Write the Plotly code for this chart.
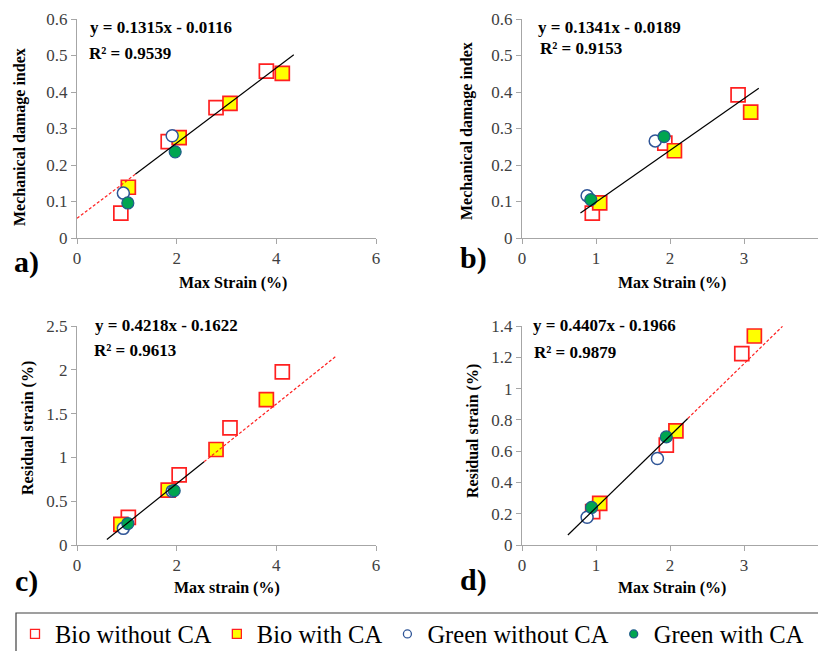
import plotly.graph_objects as go

W, H = 818, 651

# ---------------- data ----------------
series_names = ["Bio without CA", "Bio with CA", "Green without CA", "Green with CA"]

# panel a) Max strain vs mechanical damage index
a_bio_wo_x = [0.88, 1.83, 2.79, 3.80]
a_bio_wo_y = [0.068, 0.264, 0.357, 0.457]
a_bio_w_x = [1.03, 2.05, 3.07, 4.12]
a_bio_w_y = [0.139, 0.275, 0.369, 0.451]
a_grn_wo_x = [0.93, 1.91]
a_grn_wo_y = [0.123, 0.280]
a_grn_w_x = [1.02, 1.97]
a_grn_w_y = [0.096, 0.236]

# panel b)
b_bio_wo_x = [0.95, 1.93, 2.92]
b_bio_wo_y = [0.068, 0.260, 0.392]
b_bio_w_x = [1.05, 2.06, 3.09]
b_bio_w_y = [0.096, 0.239, 0.345]
b_grn_wo_x = [0.88, 1.80]
b_grn_wo_y = [0.116, 0.266]
b_grn_w_x = [0.93, 1.92]
b_grn_w_y = [0.105, 0.278]

# panel c) Max strain vs residual strain
c_bio_wo_x = [1.03, 2.05, 3.07, 4.12]
c_bio_wo_y = [0.315, 0.800, 1.337, 1.976]
c_bio_w_x = [0.88, 1.83, 2.79, 3.80]
c_bio_w_y = [0.236, 0.627, 1.090, 1.660]
c_grn_wo_x = [0.93, 1.91]
c_grn_wo_y = [0.190, 0.615]
c_grn_w_x = [1.02, 1.95]
c_grn_w_y = [0.245, 0.620]

# panel d)
d_bio_wo_x = [0.955, 1.95, 2.97]
d_bio_wo_y = [0.213, 0.638, 1.223]
d_bio_w_x = [1.05, 2.08, 3.14]
d_bio_w_y = [0.266, 0.730, 1.336]
d_grn_wo_x = [0.88, 1.83]
d_grn_wo_y = [0.177, 0.553]
d_grn_w_x = [0.94, 1.95]
d_grn_w_y = [0.240, 0.691]

# trend lines (slope, intercept, solid x-range, dashed x-range)
fit_slope = [0.103, 0.142, 0.455, 0.460]
fit_intercept = [0.054, -0.044, -0.210, -0.2214]
fit_solid_x = [[1.17, 4.35], [0.79, 3.20], [0.60, 2.55], [0.62, 2.24]]
fit_dash_x = [[0.0, 1.17], None, [2.55, 5.20], [2.24, 3.52]]

equations = ["y = 0.1315x - 0.0116", "y = 0.1341x - 0.0189",
             "y = 0.4218x - 0.1622", "y = 0.4407x - 0.1966"]
r2_texts = ["R² = 0.9539", "R² = 0.9153", "R² = 0.9613", "R² = 0.9879"]
panel_labels = ["a)", "b)", "c)", "d)"]
x_titles = ["Max Strain (%)", "Max Strain (%)", "Max strain (%)", "Max Strain (%)"]
y_titles = ["Mechanical damage index", "Mechanical damage index",
            "Residual strain (%)", "Residual strain (%)"]

x_ranges = [[0, 6], [0, 4], [0, 6], [0, 4]]
x_dticks = [2, 1, 2, 1]
y_ranges = [[0, 0.6], [0, 0.6], [0, 2.5], [0, 1.4]]
y_dticks = [0.1, 0.1, 0.5, 0.2]

# ---------------- styles ----------------
FONT = "Liberation Serif, Times New Roman, serif"
RED = "#FF2020"
YELLOW = "#FFFF00"
BLUE = "#2F5597"
GREEN = "#00A550"
GREEN_EDGE = "#1F5C8A"
AXIS = "#A6A6A6"
TICKFONT = "#404040"

styles = [
    dict(symbol="square", color="white", line=dict(color=RED, width=1.7)),
    dict(symbol="square", color=YELLOW, line=dict(color=RED, width=1.7)),
    dict(symbol="circle", color="white", line=dict(color=BLUE, width=1.5)),
    dict(symbol="circle", color=GREEN, line=dict(color=GREEN_EDGE, width=1.2)),
]
sizes = [14, 14, 12, 12]

panels = [
    [(a_bio_wo_x, a_bio_wo_y), (a_bio_w_x, a_bio_w_y), (a_grn_wo_x, a_grn_wo_y), (a_grn_w_x, a_grn_w_y)],
    [(b_bio_wo_x, b_bio_wo_y), (b_bio_w_x, b_bio_w_y), (b_grn_wo_x, b_grn_wo_y), (b_grn_w_x, b_grn_w_y)],
    [(c_bio_wo_x, c_bio_wo_y), (c_bio_w_x, c_bio_w_y), (c_grn_wo_x, c_grn_wo_y), (c_grn_w_x, c_grn_w_y)],
    [(d_bio_wo_x, d_bio_wo_y), (d_bio_w_x, d_bio_w_y), (d_grn_wo_x, d_grn_wo_y), (d_grn_w_x, d_grn_w_y)],
]

# pixel geometry of plot areas (left, right, top, bottom)
px_boxes = [(77, 376, 19, 238), (522, 818, 19, 238), (77, 376, 326, 545), (522, 818, 326, 545)]

def px(x):
    return x / W

def py(y):
    return 1 - y / H

fig = go.Figure()

for i, data in enumerate(panels):
    xa = "x" if i == 0 else f"x{i+1}"
    ya = "y" if i == 0 else f"y{i+1}"
    for j, (xs, ys) in enumerate(data):
        st = styles[j]
        fig.add_trace(go.Scatter(
            x=xs, y=ys, mode="markers", xaxis=xa, yaxis=ya, showlegend=False,
            name=series_names[j], cliponaxis=False,
            marker=dict(symbol=st["symbol"], size=sizes[j], color=st["color"], line=st["line"]),
        ))
    # trend lines
    m, b = fit_slope[i], fit_intercept[i]
    sx = fit_solid_x[i]
    fig.add_trace(go.Scatter(
        x=sx, y=[m * v + b for v in sx], mode="lines", xaxis=xa, yaxis=ya,
        showlegend=False, line=dict(color="black", width=1.2), hoverinfo="skip"))
    dx = fit_dash_x[i]
    if dx is not None:
        fig.add_trace(go.Scatter(
            x=dx, y=[m * v + b for v in dx], mode="lines", xaxis=xa, yaxis=ya,
            showlegend=False, line=dict(color=RED, width=1.2, dash="3px,2px"), hoverinfo="skip"))

# legend-only entries (smaller symbols like the reference)
for j in range(4):
    st = styles[j]
    fig.add_trace(go.Scatter(
        x=[None], y=[None], mode="markers", name=series_names[j], showlegend=True,
        marker=dict(symbol=st["symbol"], size=9 if j < 2 else 8, color=st["color"],
                    line=dict(color=st["line"]["color"], width=1.3)),
    ))

layout = dict(
    width=W, height=H, margin=dict(l=0, r=0, t=0, b=0, autoexpand=False),
    paper_bgcolor="white", plot_bgcolor="white",
    font=dict(family=FONT, color="black"),
    showlegend=True,
    legend=dict(orientation="h", x=px(15), xanchor="left", y=py(634), yanchor="middle",
                font=dict(family=FONT, size=24.5, color="black"),
                bgcolor="rgba(0,0,0,0)", borderwidth=0, itemclick=False),
)

annotations = []
for i in range(4):
    l, r, t, btm = px_boxes[i]
    suffix = "" if i == 0 else str(i + 1)
    layout["xaxis" + suffix] = dict(
        domain=[px(l), min(px(r), 1.0)], range=x_ranges[i], dtick=x_dticks[i], tick0=0,
        anchor="y" + suffix, showgrid=False, zeroline=False, showline=True, automargin=False,
        linecolor=AXIS, linewidth=1, ticks="outside", ticklen=5, tickcolor=AXIS,
        tickfont=dict(family=FONT, size=17, color=TICKFONT), fixedrange=True)
    layout["yaxis" + suffix] = dict(
        domain=[py(btm), py(t)], range=y_ranges[i], dtick=y_dticks[i], tick0=0,
        anchor="x" + suffix, showgrid=False, zeroline=False, showline=True, automargin=False,
        linecolor=AXIS, linewidth=1, ticks="outside", ticklen=5, tickcolor=AXIS,
        tickfont=dict(family=FONT, size=17, color=TICKFONT), fixedrange=True)

# text positions in pixels
eq_pos = [(88, 27), (536, 27), (93, 325), (531, 325)]
r2_pos = [(87, 53), (538, 48), (92, 350), (532, 352)]
xt_pos = [(233, 283), (672, 283), (227, 588), (672, 588)]
yt_pos = [(20, 137), (467, 131), (28, 428), (473, 431)]
lab_pos = [(26, 262), (473, 258), (26, 581), (473, 580)]

for i in range(4):
    annotations.append(dict(text=f"<b>{equations[i]}</b>", x=px(eq_pos[i][0]), y=py(eq_pos[i][1]),
                            xref="paper", yref="paper", xanchor="left", yanchor="middle",
                            showarrow=False, font=dict(family=FONT, size=17, color="black")))
    annotations.append(dict(text=f"<b>{r2_texts[i]}</b>", x=px(r2_pos[i][0]), y=py(r2_pos[i][1]),
                            xref="paper", yref="paper", xanchor="left", yanchor="middle",
                            showarrow=False, font=dict(family=FONT, size=17, color="black")))
    annotations.append(dict(text=f"<b>{x_titles[i]}</b>", x=px(xt_pos[i][0]), y=py(xt_pos[i][1]),
                            xref="paper", yref="paper", xanchor="center", yanchor="middle",
                            showarrow=False, font=dict(family=FONT, size=16, color="black")))
    annotations.append(dict(text=f"<b>{y_titles[i]}</b>", x=px(yt_pos[i][0]), y=py(yt_pos[i][1]),
                            xref="paper", yref="paper", xanchor="center", yanchor="middle",
                            textangle=-90, showarrow=False,
                            font=dict(family=FONT, size=16, color="black")))
    annotations.append(dict(text=f"<b>{panel_labels[i]}</b>", x=px(lab_pos[i][0]), y=py(lab_pos[i][1]),
                            xref="paper", yref="paper", xanchor="center", yanchor="middle",
                            showarrow=False, font=dict(family=FONT, size=30, color="black")))

layout["annotations"] = annotations
layout["shapes"] = [dict(type="rect", xref="paper", yref="paper",
                         x0=px(16), x1=1.02, y0=-0.05, y1=py(613),
                         line=dict(color="#404040", width=1.2), fillcolor="rgba(0,0,0,0)",
                         layer="below")]

fig.update_layout(**layout)
fig.write_html("out.html", config={"displayModeBar": False},
               post_script="document.body.style.margin='0';document.body.style.overflow='hidden';")
